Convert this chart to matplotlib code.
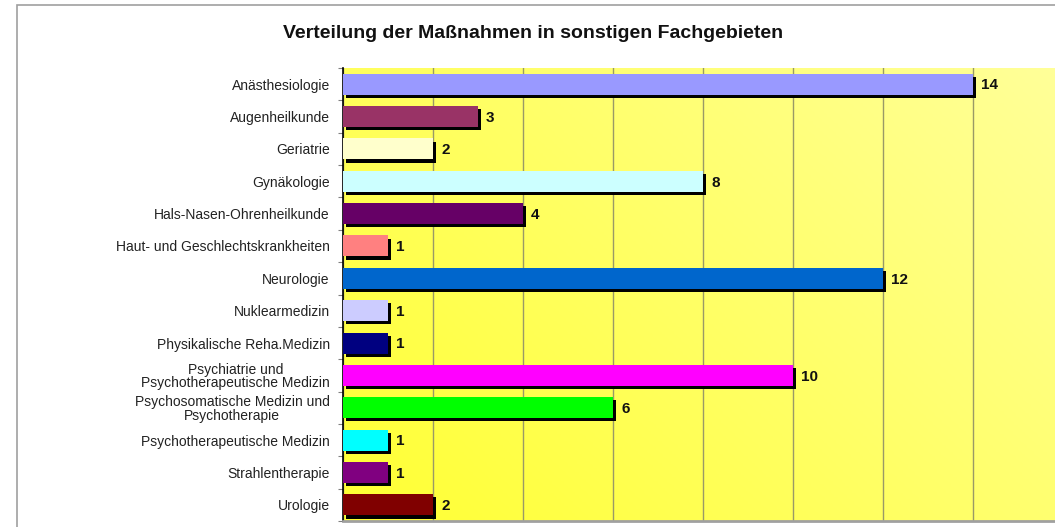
import matplotlib
matplotlib.use("Agg")
import matplotlib.pyplot as plt
import numpy as np
from matplotlib import patheffects as pe
from matplotlib.colors import LinearSegmentedColormap
from matplotlib.patches import Rectangle

categories = [
    "Anästhesiologie",
    "Augenheilkunde",
    "Geriatrie",
    "Gynäkologie",
    "Hals-Nasen-Ohrenheilkunde",
    "Haut- und Geschlechtskrankheiten",
    "Neurologie",
    "Nuklearmedizin",
    "Physikalische Reha.Medizin",
    "Psychiatrie und\nPsychotherapeutische Medizin",
    "Psychosomatische Medizin und\nPsychotherapie",
    "Psychotherapeutische Medizin",
    "Strahlentherapie",
    "Urologie",
]
values = [14, 3, 2, 8, 4, 1, 12, 1, 1, 10, 6, 1, 1, 2]
colors = ["#9999FF", "#993366", "#FFFFCC", "#CCFFFF", "#660066", "#FF8080",
          "#0066CC", "#CCCCFF", "#000080", "#FF00FF", "#00FF00", "#00FFFF",
          "#800080", "#800000"]
title = "Verteilung der Maßnahmen in sonstigen Fachgebieten"

plt.rcParams['font.family'] = ['Liberation Sans', 'DejaVu Sans']

W, H = 1055, 527
fig = plt.figure(figsize=(W / 100, H / 100), dpi=100)
fig.patch.set_facecolor("white")

# figure border (chart area frame)
fig.patches.append(Rectangle((17 / W, -0.1), 1.2, 1 - 4.5 / H + 0.1,
                             transform=fig.transFigure, fill=False,
                             edgecolor="#A0A0A0", linewidth=1.2))

ax_left, ax_right = 343, 1063
ax_top, ax_bottom = 68, 521
ax = fig.add_axes([ax_left / W, 1 - ax_bottom / H, (ax_right - ax_left) / W,
                   (ax_bottom - ax_top) / H])

n = len(categories)
y = np.arange(n)

# gradient background
cmap = LinearSegmentedColormap.from_list("bg", ["#FFFF33", "#FFFF99"])
gx, gy = np.meshgrid(np.linspace(0, 1, 200), np.linspace(0, 1, 200))
grad = (gx * 0.6 + gy * 0.4)
ax.imshow(grad, extent=[0, 1, 0, 1], transform=ax.transAxes, cmap=cmap,
          origin="lower", aspect="auto", zorder=0, interpolation="bilinear")

ax.set_xlim(0, 16)
ax.set_ylim(n - 0.5, -0.5)
ax.set_xticks(np.arange(0, 17, 2))
ax.xaxis.grid(True, color="#999966", linewidth=1.0, zorder=1)
ax.set_axisbelow(True)

bars = ax.barh(y, values, height=0.65, color=colors, zorder=3,
               edgecolor="none")
for b in bars:
    b.set_path_effects([pe.SimplePatchShadow(offset=(2.3, -2.3),
                                             shadow_rgbFace="black", alpha=1.0),
                        pe.Normal()])

for yi, v in zip(y, values):
    ax.text(v + 0.18, yi + 0.04, str(v), va="center", ha="left",
            fontsize=11, fontweight="bold", color="#111111", zorder=4)

ax.set_yticks(y)
ax.set_yticklabels(categories, fontsize=10, color="#222222",
                   multialignment="center", linespacing=0.95)
ax.set_yticks(np.arange(-0.5, n, 1), minor=True)
ax.tick_params(axis="y", which="major", length=0, pad=9.5)
ax.tick_params(axis="y", which="minor", length=3.5, color="#808080", width=0.8)
ax.tick_params(axis="x", length=0, labelbottom=False)

for s in ["top", "right"]:
    ax.spines[s].set_visible(False)
ax.spines["left"].set_color("#000000")
ax.spines["left"].set_linewidth(1.2)
ax.spines["bottom"].set_color("#A0A0A0")
ax.spines["bottom"].set_linewidth(2)

fig.text((287 + 779) / 2 / W, 1 - 34 / H, title, ha="center", va="center",
         fontsize=14, fontweight="bold", color="#111111")

fig.savefig("out.png", dpi=100)
